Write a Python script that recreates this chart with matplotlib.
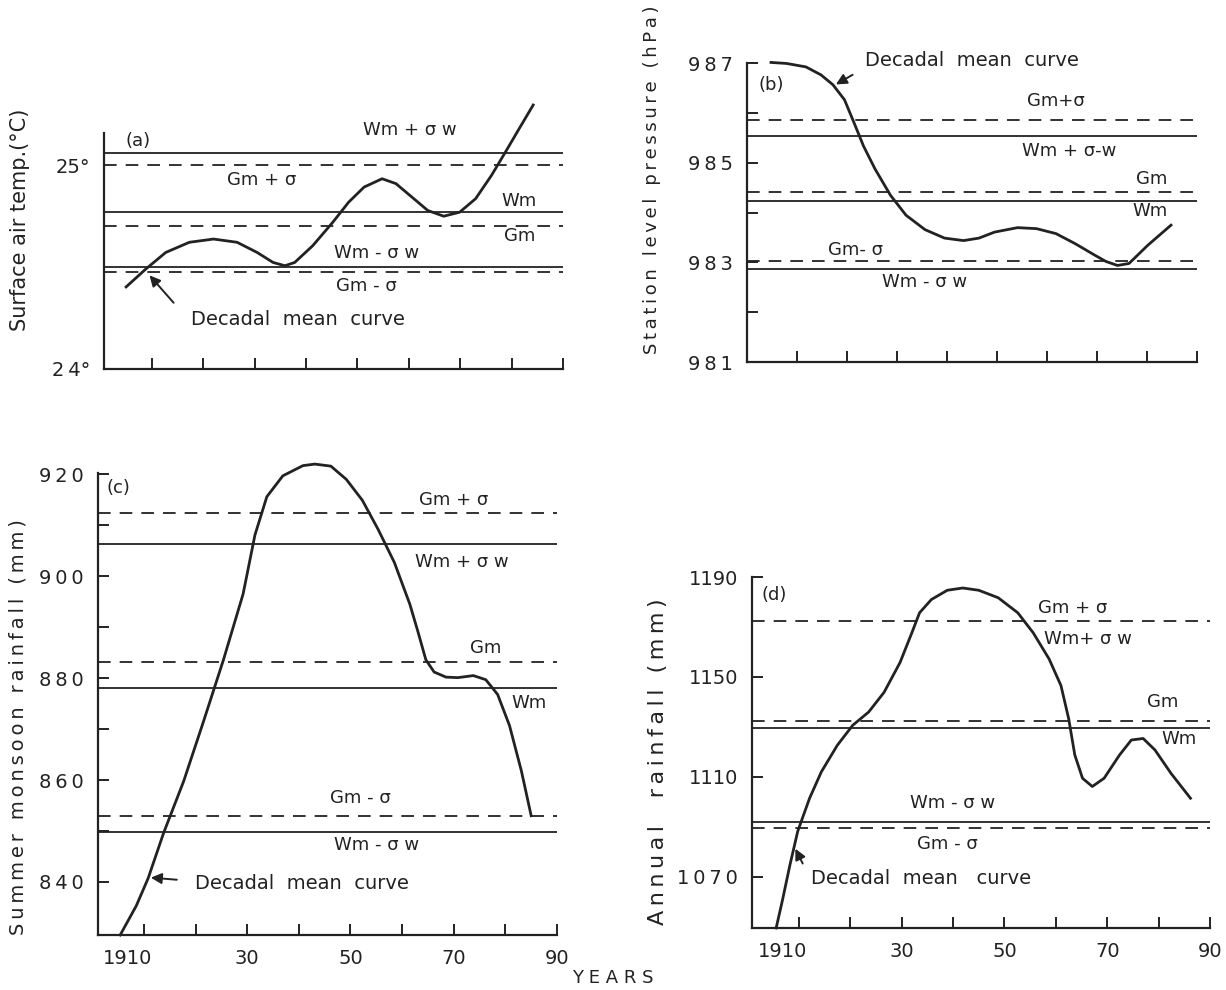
import matplotlib
matplotlib.use('Agg')
from matplotlib import pyplot as plt
from matplotlib.transforms import ScaledTranslation

plt.rcParams['font.family'] = ['DejaVu Sans']

B, H = 1226, 990
TINTE = '#222222'

# (a) Surface air temp.
a_jahre = [1905.0, 1908.8, 1912.7, 1917.3, 1922.0, 1926.6, 1930.5, 1933.6, 1935.9, 1937.8,
           1941.3, 1945.2, 1948.3, 1951.3, 1954.8, 1957.5, 1960.6, 1963.7, 1966.8, 1969.9,
           1973.0, 1976.1, 1979.2, 1981.5, 1984.2]
a_werte = [24.403, 24.490, 24.572, 24.622, 24.638, 24.622, 24.572, 24.523, 24.507, 24.523,
           24.605, 24.720, 24.819, 24.893, 24.934, 24.910, 24.844, 24.778, 24.750, 24.770,
           24.836, 24.951, 25.082, 25.181, 25.296]
a_wm = [25.058, 24.773, 24.503]          # Wm+σw, Wm, Wm-σw
a_gm = [25.003, 24.704, 24.477]          # Gm+σ, Gm, Gm-σ

# (b) Station level pressure
b_jahre = [1904.8, 1907.9, 1911.8, 1914.8, 1917.2, 1919.5, 1921.4, 1923.3, 1925.6, 1928.7,
           1931.8, 1935.6, 1939.5, 1943.3, 1946.4, 1949.5, 1954.1, 1957.9, 1961.8, 1965.6,
           1969.5, 1971.8, 1974.1, 1976.4, 1980.2, 1984.8]
b_werte = [987.02, 987.0, 986.93, 986.77, 986.57, 986.27, 985.81, 985.34, 984.88, 984.35,
           983.95, 983.66, 983.49, 983.44, 983.49, 983.61, 983.70, 983.68, 983.58, 983.38,
           983.15, 983.02, 982.94, 982.98, 983.35, 983.75]
b_wm = [985.55, 984.24, 982.87]
b_gm = [985.87, 984.42, 983.02]

# (c) Summer monsoon rainfall
c_jahre = [1905.4, 1908.5, 1910.8, 1913.8, 1917.7, 1921.5, 1925.4, 1929.2, 1931.5, 1933.8,
           1936.9, 1940.8, 1943.1, 1946.2, 1949.2, 1952.3, 1955.4, 1958.5, 1961.5, 1963.1,
           1964.6, 1966.2, 1968.5, 1970.8, 1973.8, 1976.2, 1978.5, 1980.8, 1983.1, 1985.0]
c_werte = [829.6, 835.3, 840.7, 849.6, 859.8, 871.4, 883.6, 896.5, 908.1, 915.6,
           919.7, 921.7, 922.0, 921.6, 919.0, 914.9, 909.1, 902.7, 894.5, 889.0,
           883.6, 881.2, 880.2, 880.1, 880.5, 879.7, 876.8, 870.7, 861.8, 853.0]
c_wm = [906.3, 878.0, 849.9]
c_gm = [912.5, 883.1, 852.9]

# (d) Annual rainfall
d_jahre = [1905.6, 1906.8, 1908.3, 1909.8, 1912.1, 1914.4, 1917.5, 1920.5, 1923.6, 1926.6,
           1929.7, 1932.0, 1933.5, 1935.8, 1938.9, 1941.9, 1945.0, 1948.8, 1952.6, 1955.6,
           1958.7, 1961.0, 1962.5, 1963.7, 1965.2, 1967.1, 1969.4, 1972.4, 1974.7, 1977.0,
           1979.3, 1982.4, 1986.2]
d_werte = [1049.6, 1060.5, 1075.0, 1088.3, 1101.5, 1112.1, 1122.7, 1130.7, 1136.0, 1143.9,
           1155.8, 1167.7, 1175.7, 1181.0, 1184.7, 1185.6, 1184.7, 1181.7, 1175.7, 1167.7,
           1157.2, 1146.6, 1133.4, 1118.8, 1109.5, 1106.2, 1109.5, 1118.8, 1124.8, 1125.4,
           1120.8, 1111.5, 1101.5]
d_wm = [1129.8, 1092.0]                  # Wm, Wm-σw (Wm+σw liegt auf Gm+σ)
d_gm = [1172.5, 1132.5, 1089.5]

x_ticks = [1910, 1920, 1930, 1940, 1950, 1960, 1970, 1980, 1990]
x_labels = ['1910', '', '30', '', '50', '', '70', '', '90']


def sp(text):
    return '\u2009'.join(text)


fig = plt.figure(figsize=(B / 100, H / 100), dpi=100)


def panel(links, rechts, unten, oben, xlim, ylim, spine_top):
    ax = fig.add_axes([links / B, 1 - unten / H, (rechts - links) / B, (unten - oben) / H])
    ax.set_xlim(xlim)
    ax.set_ylim(ylim)
    ax.patch.set_visible(False)
    ax.spines['top'].set_visible(False)
    ax.spines['right'].set_visible(False)
    for s in ['left', 'bottom']:
        ax.spines[s].set_linewidth(1.6)
        ax.spines[s].set_color(TINTE)
    ax.spines['left'].set_bounds(ylim[0], spine_top)
    ax.set_xticks(x_ticks)
    ax.tick_params(which='both', direction='in', length=8, width=1.4, color=TINTE,
                   labelsize=14, labelcolor=TINTE, pad=10)
    return ax


def x_beschriften(ax):
    ax.set_xticklabels(x_labels)
    erstes = ax.get_xticklabels()[0]
    erstes.set_transform(erstes.get_transform() + ScaledTranslation(-0.16, 0, fig.dpi_scale_trans))


def niveaus(ax, wm, gm, x0, x1):
    for v in wm:
        ax.plot([x0, x1], [v, v], color=TINTE, lw=1.3)
    for v in gm:
        ax.plot([x0, x1], [v, v], color=TINTE, lw=1.3, dashes=(7, 5))


def schrift(ax, x, y, t, ha='center', fs=13):
    ax.text(x, y, t, ha=ha, va='center', fontsize=fs, color=TINTE)


def pfeil(ax, kopf, schwanz):
    ax.annotate('', xy=kopf, xytext=schwanz,
                arrowprops=dict(arrowstyle='-|>', color=TINTE, lw=1.4, mutation_scale=16))


# ---- (a)
ax = panel(104, 563, 369, 94, (1900.7, 1990), (24.0, 25.35), 25.16)
ax.set_yticks([24, 25])
ax.set_yticklabels([sp('24') + '°', '25°'])
ax.tick_params(axis='y', length=0)
ax.set_xticklabels([])
niveaus(ax, a_wm, a_gm, 1900.7, 1990)
ax.plot(a_jahre, a_werte, color=TINTE, lw=2.0, clip_on=False)
schrift(ax, 1907.3, 25.12, '(a)')
schrift(ax, 1960.2, 25.175, 'Wm + σ w')
schrift(ax, 1931.3, 24.926, 'Gm + σ')
schrift(ax, 1981.5, 24.827, 'Wm')
schrift(ax, 1981.5, 24.655, 'Gm')
schrift(ax, 1953.7, 24.569, 'Wm - σ w')
schrift(ax, 1951.7, 24.408, 'Gm - σ')
schrift(ax, 1938.5, 24.243, 'Decadal  mean  curve', fs=14)
pfeil(ax, (1909.2, 24.47), (1914.6, 24.315))

# ---- (b)
ax = panel(747, 1197, 362, 51, (1900, 1990), (981.0, 987.25), 987.0)
ax.set_yticks([981, 983, 985, 987])
ax.set_yticklabels([sp('981'), sp('983'), sp('985'), sp('987')])
ax.set_yticks([982, 984, 986], minor=True)
ax.set_xticklabels([])
niveaus(ax, b_wm, b_gm, 1900, 1990)
ax.plot(b_jahre, b_werte, color=TINTE, lw=2.0, clip_on=False)
schrift(ax, 1904.8, 986.57, '(b)')
schrift(ax, 1923.6, 987.06, 'Decadal  mean  curve', ha='left', fs=14)
schrift(ax, 1961.8, 986.24, 'Gm+σ')
schrift(ax, 1964.5, 985.25, 'Wm + σ-w')
schrift(ax, 1981.0, 984.68, 'Gm')
schrift(ax, 1980.6, 984.03, 'Wm')
schrift(ax, 1921.8, 983.26, 'Gm- σ')
schrift(ax, 1935.6, 982.60, 'Wm - σ w')
pfeil(ax, (1917.3, 986.55), (1921.6, 986.8))

# ---- (c)
ax = panel(98, 557, 935, 459, (1901.1, 1990), (829.6, 923.0), 920.3)
ax.set_yticks([840, 860, 880, 900, 920])
ax.set_yticklabels([sp('840'), sp('860'), sp('880'), sp('900'), sp('920')])
ax.set_yticks([850, 870, 890, 910], minor=True)
x_beschriften(ax)
niveaus(ax, c_wm, c_gm, 1901.1, 1990)
ax.plot(c_jahre, c_werte, color=TINTE, lw=2.0, clip_on=False)
schrift(ax, 1905.0, 917.3, '(c)')
schrift(ax, 1970.0, 914.9, 'Gm + σ')
schrift(ax, 1971.5, 902.7, 'Wm + σ w')
schrift(ax, 1976.2, 886.0, 'Gm')
schrift(ax, 1984.6, 875.1, 'Wm')
schrift(ax, 1951.9, 856.4, 'Gm - σ')
schrift(ax, 1955.0, 847.2, 'Wm - σ w')
schrift(ax, 1919.8, 839.8, 'Decadal  mean  curve', ha='left', fs=14)
pfeil(ax, (1910.8, 840.9), (1916.9, 840.4))

# ---- (d)
ax = panel(752, 1210, 928, 572, (1900.9, 1990), (1049.6, 1192.0), 1190)
ax.set_yticks([1070, 1110, 1150, 1190])
ax.set_yticklabels([sp('1070'), '1110', '1150', '1190'])
x_beschriften(ax)
niveaus(ax, d_wm, d_gm, 1900.9, 1990)
ax.plot(d_jahre, d_werte, color=TINTE, lw=2.0, clip_on=False)
schrift(ax, 1905.3, 1183.0, '(d)')
schrift(ax, 1963.3, 1177.7, 'Gm + σ')
schrift(ax, 1966.3, 1165.1, 'Wm+ σ w')
schrift(ax, 1980.8, 1139.9, 'Gm')
schrift(ax, 1983.9, 1125.4, 'Wm')
schrift(ax, 1940.0, 1099.5, 'Wm - σ w')
schrift(ax, 1938.9, 1083.2, 'Gm - σ')
schrift(ax, 1912.3, 1069.5, 'Decadal  mean   curve', ha='left', fs=14)
pfeil(ax, (1909.1, 1082.3), (1911.0, 1074.4))

# Achsentitel
fig.text(20 / B, 1 - 220 / H, 'Surface air temp.(°C)', rotation=90,
         ha='center', va='center', fontsize=15, color=TINTE)
fig.text(652 / B, 1 - 180 / H, sp('Station level pressure (hPa)'), rotation=90,
         ha='center', va='center', fontsize=13, color=TINTE)
fig.text(18 / B, 1 - 727 / H, sp('Summer monsoon rainfall (mm)'), rotation=90,
         ha='center', va='center', fontsize=14, color=TINTE)
fig.text(658 / B, 1 - 762 / H, sp('Annual  rainfall (mm)'), rotation=90,
         ha='center', va='center', fontsize=16, color=TINTE)
fig.text(613 / B, 1 - 978 / H, 'Y E A R S', ha='center', va='center', fontsize=13, color=TINTE)

fig.savefig('out.png', dpi=100, facecolor='white')
